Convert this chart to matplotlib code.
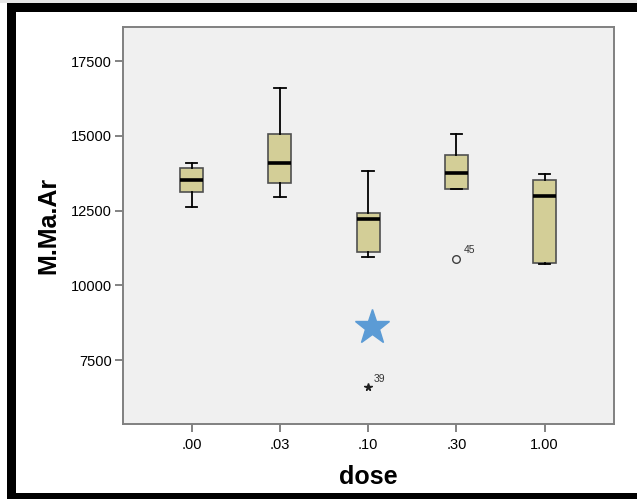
import matplotlib
import matplotlib.pyplot as plt
from matplotlib.patches import Rectangle

matplotlib.use('Agg')
plt.rcParams['font.family'] = ['Liberation Sans', 'DejaVu Sans']

# values
doses = ['.00', '.03', '.10', '.30', '1.00']
whisker_low = [12630, 12950, 10960, 13210, 10700]
q1 = [13130, 13410, 11120, 13230, 10740]
medians = [13520, 14090, 12210, 13750, 12990]
q3 = [13910, 15050, 12410, 14360, 13520]
whisker_high = [14080, 16590, 13830, 15070, 13720]

# outliers (o) and extremes (*) with case numbers
outlier_doses = ['.30']
outlier_values = [10890]
outlier_ids = ['45']
extreme_doses = ['.10']
extreme_values = [6590]
extreme_ids = ['39']

# highlighted point (blue star)
star_dose = '.10'
star_value = 8600

W, H = 637, 499
fig = plt.figure(figsize=(W / 100, H / 100), dpi=100)
fig.patch.set_facecolor('white')

# black frame around the chart (partly cropped)
def px_rect(x0, y0, x1, y1, color):
	fig.add_artist(Rectangle((x0 / W, 1 - y1 / H), (x1 - x0) / W, (y1 - y0) / H,
		transform=fig.transFigure, color=color, lw=0, zorder=0))

px_rect(0, 0, W, 3, '#e6e6e6')
px_rect(7, 3, W, 12, 'black')
px_rect(7, 3, 16, H, 'black')
px_rect(7, 493, W, H, 'black')

ax = fig.add_axes([122.7 / W, 1 - 424.3 / H, (614.3 - 122.7) / W, (424.3 - 26.7) / H])
ax.set_facecolor('#f0f0f0')

stats = []
for i in range(len(doses)):
	stats.append({'whislo': whisker_low[i], 'q1': q1[i], 'med': medians[i],
		'q3': q3[i], 'whishi': whisker_high[i], 'fliers': []})

positions = list(range(len(doses)))
ax.bxp(stats, positions=positions, widths=0.26, patch_artist=True, showfliers=False,
	boxprops=dict(facecolor='#d3ce97', edgecolor='#505050', linewidth=1.2),
	medianprops=dict(color='black', linewidth=2.6),
	whiskerprops=dict(color='black', linewidth=1.3),
	capprops=dict(color='black', linewidth=1.3))

for d, v, lab in zip(outlier_doses, outlier_values, outlier_ids):
	x = doses.index(d)
	ax.plot(x, v, 'o', ms=5.5, mfc='none', mec='#404040', mew=1.0)
	ax.annotate(lab, (x, v), xytext=(5, 4), textcoords='offset points', fontsize=7.5, color='#333333')

for d, v, lab in zip(extreme_doses, extreme_values, extreme_ids):
	x = doses.index(d)
	ax.plot(x, v, '*', ms=5.5, color='#202020')
	ax.annotate(lab, (x, v), xytext=(4, 4), textcoords='offset points', fontsize=7.5, color='#333333')

ax.plot(doses.index(star_dose) + 0.04, star_value, '*', ms=26, color='#5b9bd5', mec='#5b9bd5')

ax.set_xlim(-0.78, 4.79)
ax.set_ylim(5350, 18650)
ax.set_xticks(positions)
ax.set_xticklabels(doses)
ax.set_yticks([7500, 10000, 12500, 15000, 17500])

for s in ax.spines.values():
	s.set_color('#808080')
	s.set_linewidth(1.4)
ax.tick_params(axis='both', colors='#606060', labelcolor='black', length=6, width=1.1, labelsize=10.5)
ax.tick_params(axis='x', pad=4)
ax.tick_params(axis='y', pad=2)

ax.set_ylabel('M.Ma.Ar', fontsize=18, fontweight='bold', labelpad=7.5)
ax.set_xlabel('dose', fontsize=18, fontweight='bold', labelpad=9.5)

fig.savefig('out.png', dpi=100)
